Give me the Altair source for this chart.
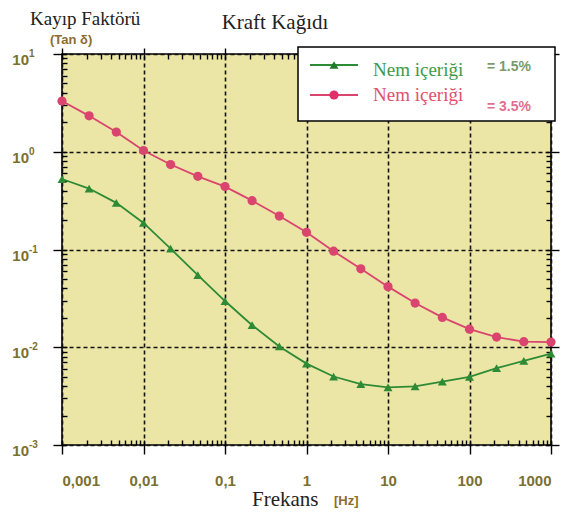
import altair as alt
import pandas as pd

# ---- data ----
freq = [0.001, 0.00215, 0.00464, 0.01, 0.0215, 0.0464, 0.1, 0.215, 0.464, 1,
        2.15, 4.64, 10, 21.5, 46.4, 100, 215, 464, 1000]
tan_15 = [0.526, 0.42, 0.30, 0.187, 0.102, 0.0547, 0.0297, 0.0168, 0.0102, 0.0068,
          0.00502, 0.00419, 0.00388, 0.00398, 0.00444, 0.00498, 0.0061, 0.00724, 0.0086]
tan_35 = [3.3, 2.33, 1.59, 1.03, 0.74, 0.56, 0.44, 0.316, 0.22, 0.15,
          0.096, 0.0635, 0.0417, 0.0283, 0.0202, 0.0153, 0.0127, 0.0114, 0.0113]
series_keys = ["1.5", "3.5"]
series_names = ["Nem içeriği", "Nem içeriği"]
series_values = ["= 1.5%", "= 3.5%"]

x_major = [0.001, 0.01, 0.1, 1, 10, 100, 1000]
y_major = [10, 1, 0.1, 0.01, 0.001]
y_exp = ["1", "0", "-1", "-2", "-3"]
x_minor = [m * d for d in [0.001, 0.01, 0.1, 1, 10, 100] for m in range(2, 10)]
y_minor = [m * d for d in [0.001, 0.01, 0.1, 1] for m in range(2, 10)]

W, H = 489, 391
LINE_G, MARK_G = "#2E8B35", "#1E7A28"
LINE_P, MARK_P = "#D9456E", "#E0306A"
LABEL_C = "#7A7030"
BG = "#ECE6A6"

df = pd.DataFrame({
    "f": freq * 2,
    "tan": tan_15 + tan_35,
    "s": [series_keys[0]] * len(freq) + [series_keys[1]] * len(freq),
})

xs = alt.Scale(type="log", domain=[0.001, 1000])
ys = alt.Scale(type="log", domain=[0.001, 10])

color = alt.Color("s:N", scale=alt.Scale(domain=series_keys, range=[LINE_G, LINE_P]), legend=None)
mcolor = alt.Color("s:N", scale=alt.Scale(domain=series_keys, range=[MARK_G, MARK_P]), legend=None)

one = pd.DataFrame({"v": [1.0]})

def xaxis_layer(axis):
    return alt.Chart(one).mark_point(opacity=0).encode(
        x=alt.X("v:Q", scale=xs, axis=axis))

def yaxis_layer(axis):
    return alt.Chart(one).mark_point(opacity=0).encode(
        y=alt.Y("v:Q", scale=ys, axis=axis))

grid_kw = dict(grid=True, gridDash=[4, 3], gridColor="#111111", gridWidth=1.6)
tick_kw = dict(tickColor="black", tickWidth=1.4, domain=False, title="", zindex=0)

# main bottom axis with labels + vertical grid
ax_bottom = xaxis_layer(alt.Axis(
    orient="bottom", values=x_major, tickSize=9,
    labelExpr="replace(toString(datum.value), '.', ',')",
    labelFont="Liberation Sans", labelFontWeight="bold", labelFontSize=15,
    labelColor=LABEL_C, labelPadding=19, **grid_kw, **tick_kw))
ax_bottom_in = xaxis_layer(alt.Axis(
    orient="top", offset=-H, values=x_minor + x_major, tickSize=5, labels=False, **tick_kw))
ax_top_in = xaxis_layer(alt.Axis(
    orient="bottom", offset=-H, values=x_minor + x_major, tickSize=5, labels=False, **tick_kw))
ax_top_out = xaxis_layer(alt.Axis(
    orient="top", values=x_major, tickSize=6, labels=False, **tick_kw))

ax_left = yaxis_layer(alt.Axis(
    orient="left", values=y_major, tickSize=9, labels=False, **grid_kw, **tick_kw))
ax_left_in = yaxis_layer(alt.Axis(
    orient="right", offset=-W, values=y_minor + y_major, tickSize=5, labels=False, **tick_kw))
ax_right_in = yaxis_layer(alt.Axis(
    orient="left", offset=-W, values=y_minor + y_major, tickSize=5, labels=False, **tick_kw))
ax_right_out = yaxis_layer(alt.Axis(
    orient="right", values=y_major, tickSize=8, labels=False, **tick_kw))

base = alt.Chart(df)
lines = base.mark_line(strokeWidth=1.8).encode(
    x=alt.X("f:Q", scale=xs, axis=None),
    y=alt.Y("tan:Q", scale=ys, axis=None),
    color=color, detail="s:N")
pts_g = alt.Chart(df[df.s == series_keys[0]]).mark_point(
    shape="triangle-up", filled=True, size=80, opacity=1).encode(
    x=alt.X("f:Q", scale=xs, axis=None), y=alt.Y("tan:Q", scale=ys, axis=None),
    color=mcolor)
pts_p = alt.Chart(df[df.s == series_keys[1]]).mark_point(
    shape="circle", filled=True, size=85, opacity=1).encode(
    x=alt.X("f:Q", scale=xs, axis=None), y=alt.Y("tan:Q", scale=ys, axis=None),
    color=mcolor)

# y tick labels: 10 with superscript exponent
ylab = pd.DataFrame({"v": y_major, "e": y_exp})
ylab_base = alt.Chart(ylab).mark_text(
    align="right", baseline="middle", font="Liberation Sans", fontWeight="bold",
    fontSize=15, color=LABEL_C, dy=6).encode(
    x=alt.value(-33), y=alt.Y("v:Q", scale=ys, axis=None), text=alt.value("10"))
ylab_exp = alt.Chart(ylab).mark_text(
    align="left", baseline="middle", font="Liberation Sans", fontWeight="bold",
    fontSize=10, color=LABEL_C, dy=0).encode(
    x=alt.value(-33), y=alt.Y("v:Q", scale=ys, axis=None), text="e:N")

def label(text, x, y, **kw):
    return alt.Chart(pd.DataFrame({"t": [text]})).mark_text(**kw).encode(
        x=alt.value(x), y=alt.value(y), text="t:N")

serif = "Liberation Serif"
sans = "Liberation Sans"
t_ylabel = label("Kayıp Faktörü", -32, -29, align="left", baseline="alphabetic",
                 font=serif, fontSize=19, color="#222222")
t_tan = label("(Tan δ)", -12, -10, align="left", baseline="alphabetic",
              font=sans, fontWeight="bold", fontSize=13, color="#8C6D2E")
t_title = label("Kraft Kağıdı", 213, -25, align="center", baseline="alphabetic",
                font=serif, fontSize=21, color="#222222")
t_xlabel = label("Frekans", 190, 452, align="left", baseline="alphabetic",
                 font=serif, fontSize=21, color="#222222")
t_hz = label("[Hz]", 272, 451, align="left", baseline="alphabetic",
             font=sans, fontWeight="bold", fontSize=13, color="#8C6D2E")

# legend box
leg_box = alt.Chart(one).mark_rect(fill="white", stroke="black", strokeWidth=1.5).encode(
    x=alt.value(236), x2=alt.value(493), y=alt.value(-7), y2=alt.value(67))
leg_line_g = alt.Chart(one).mark_rule(color=LINE_G, strokeWidth=1.8).encode(
    x=alt.value(248), x2=alt.value(296), y=alt.value(11))
leg_line_p = alt.Chart(one).mark_rule(color=LINE_P, strokeWidth=1.8).encode(
    x=alt.value(248), x2=alt.value(296), y=alt.value(41))
leg_pt_g = alt.Chart(one).mark_point(shape="triangle-up", filled=True, size=80,
                                     color=MARK_G, opacity=1).encode(
    x=alt.value(272), y=alt.value(11))
leg_pt_p = alt.Chart(one).mark_point(shape="circle", filled=True, size=85,
                                     color=MARK_P, opacity=1).encode(
    x=alt.value(272), y=alt.value(41))
leg_t_g = label(series_names[0], 311, 22, align="left", baseline="alphabetic",
                font=serif, fontSize=19, color="#3C9A4C")
leg_t_p = label(series_names[1], 311, 47, align="left", baseline="alphabetic",
                font=serif, fontSize=19, color="#E0506E")
leg_v_g = label(series_values[0], 425, 13, align="left", baseline="middle",
                font=sans, fontWeight="bold", fontSize=14, color="#7A9A6A")
leg_v_p = label(series_values[1], 425, 53, align="left", baseline="middle",
                font=sans, fontWeight="bold", fontSize=14, color="#E07090")

chart = alt.layer(
    ax_bottom, ax_bottom_in, ax_top_in, ax_top_out,
    ax_left, ax_left_in, ax_right_in, ax_right_out,
    lines, pts_g, pts_p,
    ylab_base, ylab_exp,
    t_ylabel, t_tan, t_title, t_xlabel, t_hz,
    leg_box, leg_line_g, leg_line_p, leg_pt_g, leg_pt_p,
    leg_t_g, leg_t_p, leg_v_g, leg_v_p,
).resolve_axis(x="independent", y="independent").properties(
    width=W, height=H,
    autosize=alt.AutoSizeParams(type="none"),
    padding={"left": 54, "top": 46, "right": 11, "bottom": 66},
    background="white",
).configure_view(fill=BG, stroke="black", strokeWidth=1.6)

chart.save("out.html", embed_options={"renderer": "svg", "actions": False})
